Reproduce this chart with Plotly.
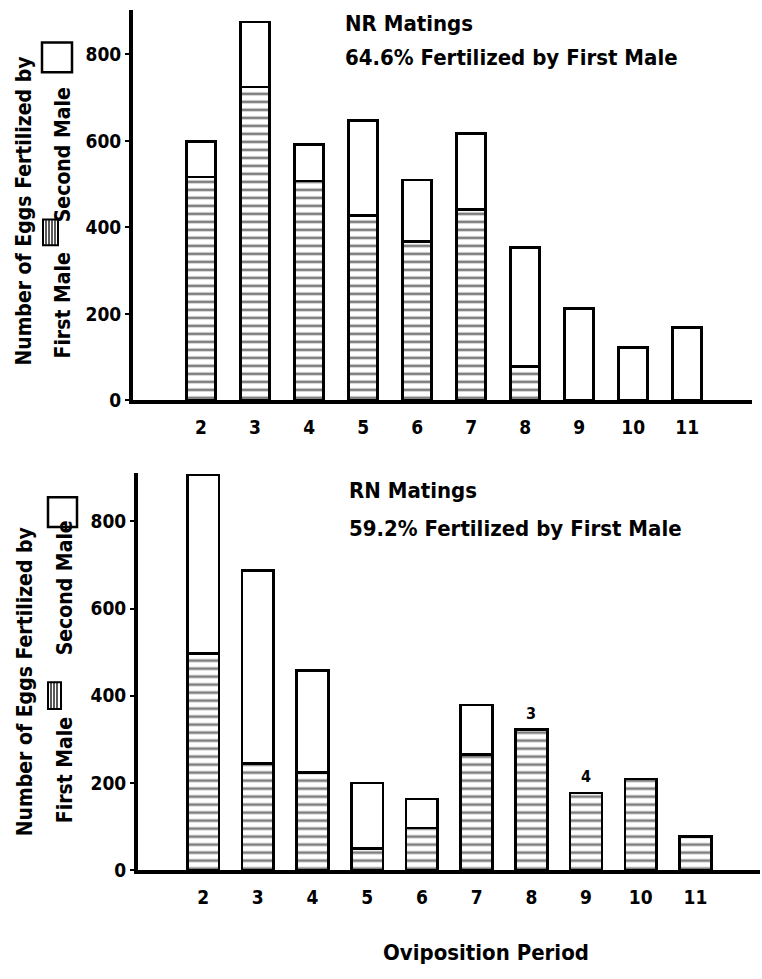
import plotly.graph_objects as go

# ---- data ----
periods = [2, 3, 4, 5, 6, 7, 8, 9, 10, 11]
nr_first = [517, 725, 507, 427, 368, 441, 78, 0, 0, 0]
nr_second = [82, 150, 85, 220, 142, 176, 276, 213, 123, 169]
rn_first = [497, 245, 224, 50, 97, 265, 322, 177, 209, 77]
rn_second = [410, 443, 234, 150, 66, 114, 0, 0, 0, 0]
rn_note_periods = [8, 9]
rn_note_labels = ["3", "4"]
y_ticks = [0, 200, 400, 600, 800]
y_tick_labels = ["0", "200", "400", "600", "800"]

W, H = 762, 979
FONT = "DejaVu Sans Condensed, Liberation Sans Narrow, sans-serif"


def px(x):
    return x / W


def py(y):
    return 1 - y / H


hatch = dict(shape="-", fgcolor="black", bgcolor="white", size=8, solidity=0.34)
outline = dict(color="black", width=2.6)

fig = go.Figure()
fig.add_bar(x=periods, y=nr_first, xaxis="x", yaxis="y", width=0.54,
            marker=dict(color="white", line=outline, pattern=hatch), showlegend=False)
fig.add_bar(x=periods, y=nr_second, xaxis="x", yaxis="y", width=0.54,
            marker=dict(color="white", line=outline), showlegend=False)
fig.add_bar(x=periods, y=rn_first, xaxis="x2", yaxis="y2", width=0.58,
            marker=dict(color="white", line=outline, pattern=hatch), showlegend=False)
fig.add_bar(x=periods, y=rn_second, xaxis="x2", yaxis="y2", width=0.58,
            marker=dict(color="white", line=outline), showlegend=False)

tickfont = dict(family=FONT, size=19, color="black", weight="bold")
xcommon = dict(tickmode="array", tickvals=periods, ticktext=[str(p) for p in periods],
               showgrid=False, zeroline=False, showline=True, linecolor="black",
               linewidth=4, ticks="", tickfont=tickfont, fixedrange=True,
               ticklabelstandoff=7)
ycommon = dict(tickmode="array", tickvals=y_ticks, ticktext=y_tick_labels,
               showgrid=False, zeroline=False, showline=True, linecolor="black",
               linewidth=4, ticks="outside", ticklen=4, tickwidth=2, tickcolor="black",
               tickfont=tickfont, fixedrange=True)

fig.update_layout(
    width=W, height=H, margin=dict(l=0, r=0, t=0, b=0),
    plot_bgcolor="white", paper_bgcolor="white", barmode="stack", bargap=0.45,
    xaxis=dict(domain=[px(133), px(752)], range=[0.74, 12.2], anchor="y", **xcommon),
    yaxis=dict(domain=[py(405), py(10)], range=[0, 903], anchor="x", **ycommon),
    xaxis2=dict(domain=[px(138), px(760)], range=[0.81, 12.18], anchor="y2", **xcommon),
    yaxis2=dict(domain=[py(880), py(478)], range=[0, 912], anchor="x2", **ycommon),
)

big = dict(family=FONT, size=22, color="black", weight="bold")
ann = []
ann.append(dict(text="NR Matings", x=px(343), y=py(24), xref="paper", yref="paper",
                xanchor="left", yanchor="middle", showarrow=False, font=big))
ann.append(dict(text="64.6% Fertilized by First Male", x=px(343), y=py(58), xref="paper",
                yref="paper", xanchor="left", yanchor="middle", showarrow=False, font=big))
ann.append(dict(text="RN Matings", x=px(347), y=py(496), xref="paper", yref="paper",
                xanchor="left", yanchor="middle", showarrow=False, font=big))
ann.append(dict(text="59.2% Fertilized by First Male", x=px(347), y=py(534), xref="paper",
                yref="paper", xanchor="left", yanchor="middle", showarrow=False, font=big))
ann.append(dict(text="Oviposition Period", x=px(486), y=py(963), xref="paper", yref="paper",
                xanchor="center", yanchor="middle", showarrow=False, font=big))

# bar notes
for p, lab in zip(rn_note_periods, rn_note_labels):
    i = periods.index(p)
    ann.append(dict(text=lab, x=p, y=rn_first[i] + rn_second[i], xref="x2", yref="y2",
                    yanchor="bottom", yshift=5, showarrow=False,
                    font=dict(family=FONT, size=16, color="black", weight="bold")))

# rotated y-titles
ytfont = dict(family=FONT, size=21, color="black", weight="bold")
shapes = []
for (l1y, fmy, smy, l1x, l2x, hb, ob) in [
    (214, 309, 157, 24, 63, (43, 58, 222, 248), (42, 72, 43, 73)),
    (690, 779, 595, 25, 65, (48, 61, 690, 717), (48, 77, 503, 533)),
]:
    ann.append(dict(text="Number of Eggs Fertilized by", x=px(l1x), y=py(l1y), xref="paper",
                    yref="paper", xanchor="center", yanchor="middle", textangle=-90,
                    showarrow=False, font=ytfont))
    ann.append(dict(text="First Male", x=px(l2x), y=py(fmy), xref="paper", yref="paper",
                    xanchor="center", yanchor="middle", textangle=-90, showarrow=False,
                    font=ytfont))
    ann.append(dict(text="Second Male", x=px(l2x), y=py(smy), xref="paper", yref="paper",
                    xanchor="center", yanchor="middle", textangle=-90, showarrow=False,
                    font=ytfont))
    x0, x1, y0, y1 = hb
    shapes.append(dict(type="rect", xref="paper", yref="paper", x0=px(x0), x1=px(x1),
                       y0=py(y1), y1=py(y0), line=dict(color="black", width=2)))
    xx = x0 + 3
    while xx < x1 - 1:
        shapes.append(dict(type="line", xref="paper", yref="paper", x0=px(xx), x1=px(xx),
                           y0=py(y1), y1=py(y0), line=dict(color="black", width=1.3)))
        xx += 3
    x0, x1, y0, y1 = ob
    shapes.append(dict(type="rect", xref="paper", yref="paper", x0=px(x0), x1=px(x1),
                       y0=py(y1), y1=py(y0), line=dict(color="black", width=2.5)))

fig.update_layout(annotations=ann, shapes=shapes)
fig.write_html("out.html", config={"displayModeBar": False},
               post_script="document.body.style.margin='0';document.body.style.padding='0';")
